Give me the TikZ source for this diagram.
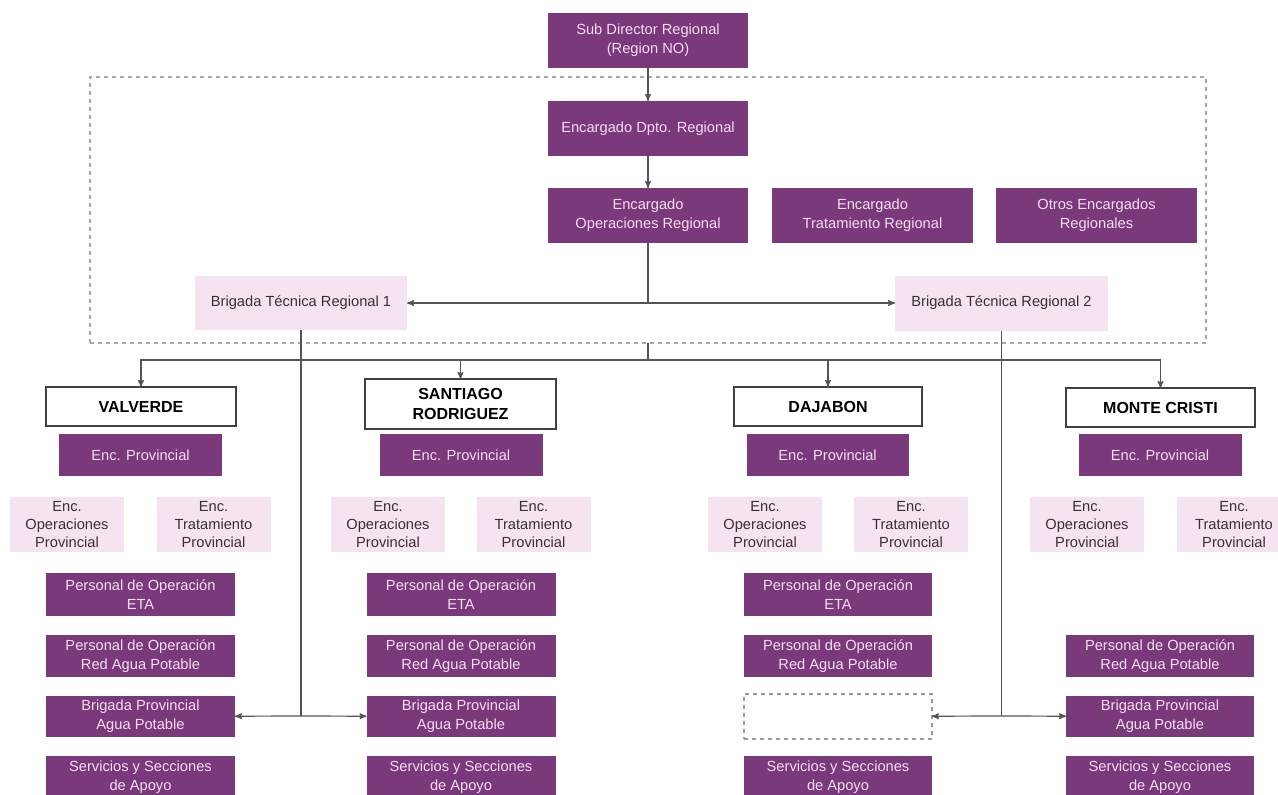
\documentclass[tikz,border=0pt]{standalone}
\usepackage{fontspec}
\setmainfont{Liberation Sans}
\usepackage{tikz}
\usetikzlibrary{arrows,positioning}
\definecolor{orgpurple}{HTML}{7A397A}
\definecolor{orgpink}{HTML}{F6E3F2}
\definecolor{orgtext}{HTML}{F4DDF1}
\definecolor{orgline}{HTML}{555555}
\tikzset{
    %Define standard arrow tip
    >=stealth',
    %Define box size in pixels
    px/.style 2 args={
           minimum width=#1*0.75pt,
           minimum height=#2*0.75pt},
    %Define style for boxes
    office/.style={
           rectangle,
           fill=orgpurple,
           text=orgtext,
           inner sep=0pt, outer sep=0pt,
           align=center,
           font=\fontsize{11}{14}\selectfont},
    staff/.style={
           rectangle,
           fill=orgpink,
           text=black!80,
           inner sep=0pt, outer sep=0pt,
           align=center,
           font=\fontsize{11}{13.7}\selectfont},
    province/.style={
           rectangle,
           draw=black!75, line width=1pt,
           fill=white,
           inner sep=0pt, outer sep=0pt,
           align=center,
           font=\fontsize{12}{15}\selectfont\bfseries},
    vacant/.style={
           rectangle,
           draw=gray!80, dashed, thick,
           inner sep=0pt, outer sep=0pt},
    region/.style={
           rectangle,
           draw=gray!70, dashed, thick,
           inner sep=0pt, outer sep=0pt},
    % Define arrow style
    pil/.style={
           ->,
           draw=orgline,
           line width=0.9pt},
    link/.style={
           draw=orgline,
           line width=0.9pt}
}
\begin{document}
\begin{tikzpicture}[x=0.75pt,y=-0.75pt]
\useasboundingbox (0,0) rectangle (1278,795);
 %regional level
\node[region, px={1116}{266}] (region) at (648,210) {};
\node[office, px={200}{55}] (subdir) at (648,40.5) {Sub Director Regional\\(Region NO)};
\node[office, px={200}{55}] (dpto) at (648,128.5) {Encargado Dpto. Regional};
\node[office, px={200}{55}] (opreg) at (648,215.5) {Encargado\\Operaciones Regional};
\node[office, px={201}{55}] (tratreg) at (872.5,215.5) {Encargado\\Tratamiento Regional};
\node[office, px={201}{55}] (otrosreg) at (1096.5,215.5) {Otros Encargados\\Regionales};
\node[staff, px={212}{54}] (brigone) at (301,303) {Brigada Técnica Regional 1};
\node[staff, px={213}{55}] (brigtwo) at (1001.5,303) {Brigada Técnica Regional 2};
\coordinate (split) at (648,303);
\coordinate (bus) at (648,360);
\coordinate (brigonefoot) at (301,716);
\coordinate (brigtwofoot) at (1001.5,716);
 %provinces
\node[province, px={190}{39}] (valverde) at (141,406.5) {VALVERDE};
\node[province, px={191}{50}] (santiago) at (460.5,404) {SANTIAGO\\RODRIGUEZ};
\node[province, px={188}{39}] (dajabon) at (828,406.5) {DAJABON};
\node[province, px={189}{39}] (montecristi) at (1160.5,407.5) {MONTE CRISTI};
 %valverde
\node[office, px={163}{42}] (v-enc) at (140.5,455) {Enc. Provincial};
\node[staff, px={114}{55}] (v-op) at (67,524.5) {Enc.\\Operaciones\\Provincial};
\node[staff, px={114}{55}] (v-trat) at (213.5,524.5) {Enc.\\Tratamiento\\Provincial};
\node[office, px={189}{43}] (v-eta) at (140.5,594.5) {Personal de Operación\\ETA};
\node[office, px={189}{42}] (v-red) at (140.5,656) {Personal de Operación\\Red Agua Potable};
\node[office, px={189}{41}] (v-brig) at (140.5,716.5) {Brigada Provincial\\Agua Potable};
\node[office, px={189}{42}] (v-serv) at (140.5,777) {Servicios y Secciones\\de Apoyo};
 %santiago rodriguez
\node[office, px={163}{42}] (s-enc) at (461,455) {Enc. Provincial};
\node[staff, px={114}{55}] (s-op) at (388,524.5) {Enc.\\Operaciones\\Provincial};
\node[staff, px={114}{55}] (s-trat) at (533.5,524.5) {Enc.\\Tratamiento\\Provincial};
\node[office, px={189}{43}] (s-eta) at (461,594.5) {Personal de Operación\\ETA};
\node[office, px={189}{42}] (s-red) at (461,656) {Personal de Operación\\Red Agua Potable};
\node[office, px={189}{41}] (s-brig) at (461,716.5) {Brigada Provincial\\Agua Potable};
\node[office, px={189}{42}] (s-serv) at (461,777) {Servicios y Secciones\\de Apoyo};
 %dajabon
\node[office, px={162}{42}] (d-enc) at (827.5,455) {Enc. Provincial};
\node[staff, px={114}{55}] (d-op) at (765,524.5) {Enc.\\Operaciones\\Provincial};
\node[staff, px={114}{55}] (d-trat) at (911,524.5) {Enc.\\Tratamiento\\Provincial};
\node[office, px={188}{43}] (d-eta) at (838,594.5) {Personal de Operación\\ETA};
\node[office, px={188}{42}] (d-red) at (838,656) {Personal de Operación\\Red Agua Potable};
\node[vacant, px={188}{45}] (d-brig) at (838,716.5) {};
\node[office, px={188}{42}] (d-serv) at (838,777) {Servicios y Secciones\\de Apoyo};
 %monte cristi
\node[office, px={163}{42}] (m-enc) at (1160,455) {Enc. Provincial};
\node[staff, px={114}{55}] (m-op) at (1087,524.5) {Enc.\\Operaciones\\Provincial};
\node[staff, px={114}{55}] (m-trat) at (1234,524.5) {Enc.\\Tratamiento\\Provincial};
\node[office, px={188}{42}] (m-red) at (1160,656) {Personal de Operación\\Red Agua Potable};
\node[office, px={188}{41}] (m-brig) at (1160,716.5) {Brigada Provincial\\Agua Potable};
\node[office, px={188}{42}] (m-serv) at (1160,777) {Servicios y Secciones\\de Apoyo};
 %connectors
\draw[pil] (subdir) -- (dpto);
\draw[pil] (dpto) -- (opreg);
\draw[link] (opreg) -- (split);
\draw[pil] (split) -- (brigone);
\draw[pil] (split) -- (brigtwo);
\draw[link] (region.south) -- (bus);
\draw[pil] (bus) -| (valverde);
\draw[pil] (bus) -| (santiago);
\draw[pil] (bus) -| (dajabon);
\draw[pil] (bus) -| (montecristi);
\draw[link] (brigone) -- (brigonefoot);
\draw[pil] (brigonefoot) -- (v-brig);
\draw[pil] (brigonefoot) -- (s-brig);
\draw[link] (brigtwo) -- (brigtwofoot);
\draw[pil] (brigtwofoot) -- (d-brig);
\draw[pil] (brigtwofoot) -- (m-brig);
\end{tikzpicture}
\end{document}
